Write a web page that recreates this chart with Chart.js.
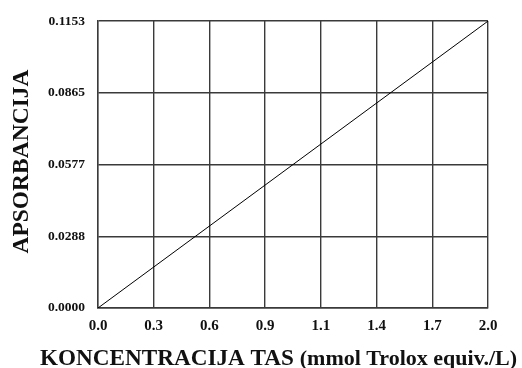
<!DOCTYPE html>
<html>
<head>
<meta charset="utf-8">
<script src="https://cdn.jsdelivr.net/npm/chart.js@4"></script>
<style>
  html, body { margin: 0; padding: 0; background: #ffffff; }
  #wrap { width: 522px; height: 368px; }
</style>
</head>
<body>
<div id="wrap"><canvas id="c" width="522" height="368"></canvas></div>
<script>
// Calibration line: absorbance vs. TAS concentration
const concentration = [0.0, 2.0];
const absorbance = [0.0, 0.1153];

// Axis tick labels
const xTickLabels = ['0.0', '0.3', '0.6', '0.9', '1.1', '1.4', '1.7', '2.0'];
const yTickValues = [0.0, 0.0288, 0.0577, 0.0865, 0.1153];
const yTickLabels = ['0.0000', '0.0288', '0.0577', '0.0865', '0.1153'];

const xTitleMain = 'KONCENTRACIJA TAS';
const xTitleUnit = '(mmol Trolox equiv./L)';
const yTitle = 'APSORBANCIJA';

const SERIF = '"Liberation Serif", "Times New Roman", serif';
const INK = '#111111';
const GRID = '#3a3a3a';

const points = concentration.map((x, i) => ({ x: x, y: absorbance[i] }));
const xMax = concentration[concentration.length - 1];

const titlesPlugin = {
  id: 'axisTitles',
  afterDraw(chart) {
    const ctx = chart.ctx;
    ctx.save();
    ctx.fillStyle = INK;
    ctx.textBaseline = 'alphabetic';
    // x-axis title: two runs of different size
    const f1 = 'bold 23.2px ' + SERIF;
    const f2 = 'bold 22px ' + SERIF;
    ctx.font = f1;
    const w1 = ctx.measureText(xTitleMain + ' ').width;
    ctx.font = f2;
    const w2 = ctx.measureText(xTitleUnit).width;
    const cx = 278.5;
    const x0 = cx - (w1 + w2) / 2;
    const base = 365;
    ctx.font = f1;
    ctx.textAlign = 'left';
    ctx.fillText(xTitleMain + ' ', x0, base);
    ctx.font = f2;
    ctx.fillText(xTitleUnit, x0 + w1, base);
    // y-axis title, rotated
    ctx.translate(28, 161.5);
    ctx.rotate(-Math.PI / 2);
    ctx.font = 'bold 23.5px ' + SERIF;
    ctx.textAlign = 'center';
    ctx.fillText(yTitle, 0, 0);
    ctx.restore();
  }
};

new Chart(document.getElementById('c'), {
  type: 'line',
  data: {
    datasets: [{
      data: points,
      borderColor: '#000000',
      borderWidth: 1,
      pointRadius: 0,
      fill: false,
      tension: 0
    }]
  },
  options: {
    responsive: false,
    animation: false,
    devicePixelRatio: 1,
    layout: { padding: { left: 0, right: 34, top: 20, bottom: 0 } },
    plugins: { legend: { display: false }, tooltip: { enabled: false } },
    scales: {
      x: {
        type: 'linear',
        min: 0,
        max: xMax,
        afterBuildTicks(scale) {
          scale.ticks = xTickLabels.map((_, i) => ({ value: i * xMax / (xTickLabels.length - 1) }));
        },
        afterFit(scale) { scale.height = 60; },
        grid: { color: GRID, lineWidth: 1.4, drawTicks: false },
        border: { color: GRID, width: 1.4 },
        ticks: {
          autoSkip: false,
          maxRotation: 0,
          padding: 9,
          color: INK,
          font: { family: SERIF, size: 15, weight: 'bold' },
          callback(v, i) { return xTickLabels[i]; }
        }
      },
      y: {
        type: 'linear',
        min: 0,
        max: yTickValues[yTickValues.length - 1],
        afterBuildTicks(scale) {
          scale.ticks = yTickValues.map(v => ({ value: v }));
        },
        afterFit(scale) { scale.width = 98; },
        grid: { color: GRID, lineWidth: 1.4, drawTicks: false },
        border: { color: GRID, width: 1.4 },
        ticks: {
          autoSkip: false,
          padding: 13,
          color: INK,
          font: { family: SERIF, size: 13.5, weight: 'bold' },
          callback(v, i) { return yTickLabels[i]; }
        }
      }
    }
  },
  plugins: [titlesPlugin]
});
</script>
</body>
</html>
